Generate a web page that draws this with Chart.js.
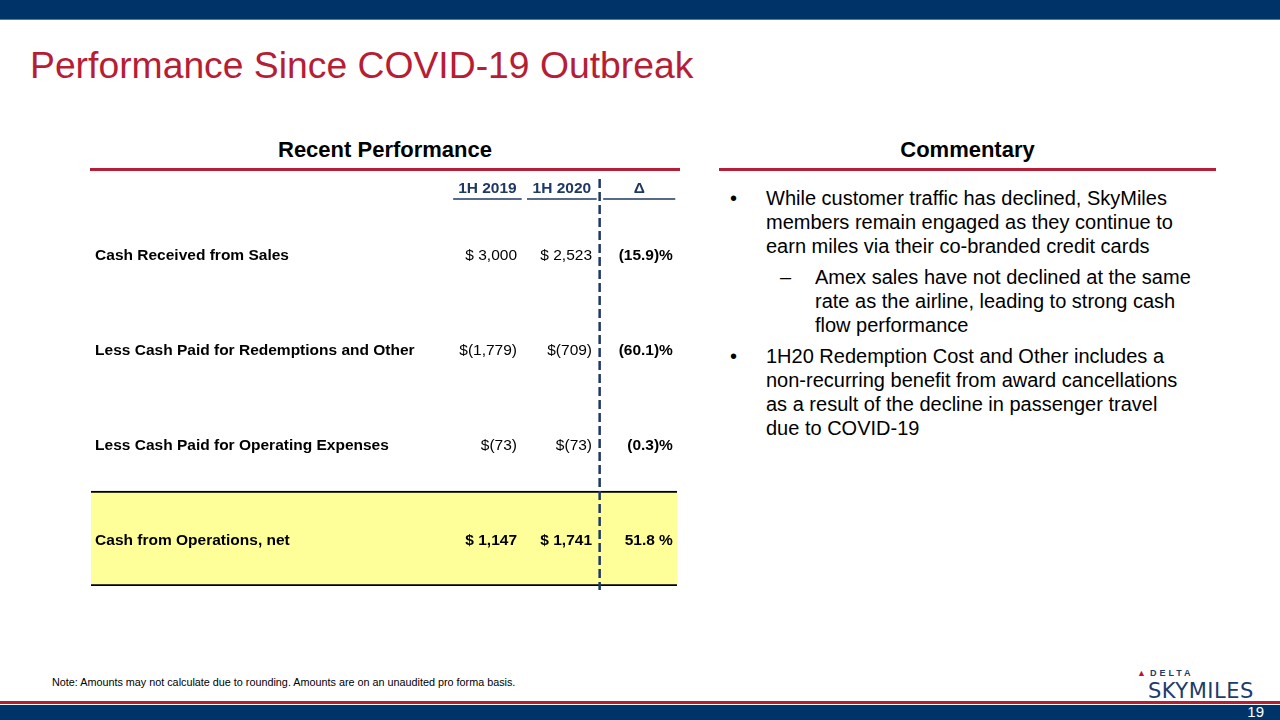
<!DOCTYPE html>
<html>
<head>
<meta charset="utf-8">
<script src="https://cdn.jsdelivr.net/npm/chart.js@4.4.1/dist/chart.umd.min.js"></script>
<style>
  body { margin: 0; width: 1280px; height: 720px; position: relative; overflow: hidden; background: #fff; font-family: "Liberation Sans", Arial, sans-serif; }
  .abs { position: absolute; }
  .nw { white-space: nowrap; }
  #topbar { left: 0; top: 0; width: 1280px; height: 19px; background: #003468; border-bottom: 1px solid #5a7796; }
  #title { left: 30px; top: 44px; font-size: 37.3px; color: #b71d35; white-space: nowrap; }
  .sect { font-size: 22px; font-weight: bold; color: #000; text-align: center; }
  .redline { height: 3px; background: #b71d35; }
  #comment { left: 730px; top: 186px; width: 461px; font-size: 20px; line-height: 24px; color: #000; }
  .b { position: relative; padding-left: 36px; margin-bottom: 7px; }
  .b span.m { position: absolute; left: 0; top: 0; }
  .s { position: relative; padding-left: 85px; margin-bottom: 7px; margin-right: -10px; }
  .s span.m { position: absolute; left: 50px; top: 0; }
  #note { left: 52px; top: 676px; font-size: 10.8px; color: #000; white-space: nowrap; }
  #delta { left: 1137px; top: 668px; font-size: 9px; font-weight: bold; letter-spacing: 3px; color: #1d3c6a; }
  #delta b { color: #c8102e; font-size: 9px; margin-right: 4px; letter-spacing: 0; }
  #sky { left: 1148px; top: 679px; font-size: 21px; letter-spacing: 0.5px; color: #1d3c6a; font-family: "DejaVu Sans", sans-serif; font-weight: normal; }
  #redbot { left: 0; top: 701px; width: 1280px; height: 3px; background: #b71d35; }
  #botbar { left: 0; top: 705px; width: 1280px; height: 15px; background: #003468; }
  #page { right: 16px; top: 703px; font-size: 15px; color: #fff; }
</style>
</head>
<body>
<div id="topbar" class="abs"></div>
<div id="title" class="abs">Performance Since COVID-19 Outbreak</div>

<div class="abs sect" style="left:90px; top:137px; width:590px;">Recent Performance</div>
<div class="abs redline" style="left:90px; top:168px; width:590px;"></div>
<div class="abs sect" style="left:719px; top:137px; width:497px;">Commentary</div>
<div class="abs redline" style="left:719px; top:168px; width:497px;"></div>

<div class="abs" style="left:85px; top:170px; width:600px; height:425px;">
  <canvas id="tbl" width="600" height="425"></canvas>
</div>

<div id="comment" class="abs">
  <div class="b"><span class="m">&bull;</span>While customer traffic has declined, SkyMiles members remain engaged as they continue to earn miles via their <span class="nw">co-branded</span> credit cards</div>
  <div class="s"><span class="m">&ndash;</span>Amex sales have not declined at the same rate as the airline, leading to strong cash flow performance</div>
  <div class="b"><span class="m">&bull;</span>1H20 Redemption Cost and Other includes a <span class="nw">non-recurring</span> benefit from award cancellations as a result of the decline in passenger travel due to <span class="nw">COVID-19</span></div>
</div>

<div id="note" class="abs">Note: Amounts may not calculate due to rounding. Amounts are on an unaudited pro forma basis.</div>
<div id="delta" class="abs"><b>&#9650;</b>DELTA</div>
<div id="sky" class="abs">SKYMILES</div>
<div id="redbot" class="abs"></div>
<div id="botbar" class="abs"></div>
<div id="page" class="abs">19</div>

<script>
// table rows and values ($ millions)
var rowLabels = ['Cash Received from Sales', 'Less Cash Paid for Redemptions and Other', 'Less Cash Paid for Operating Expenses', 'Cash from Operations, net'];
var columnLabels = ['1H 2019', '1H 2020', '\u0394'];
var values2019 = [3000, -1779, -73, 1147];
var values2020 = [2523, -709, -73, 1741];
var changePct = [-15.9, -60.1, -0.3, 51.8];
var totalRow = [false, false, false, true];

var navy = '#1f3864';
var font = '"Liberation Sans", Arial, sans-serif';
var size = '15.5px ';

// column anchors on the hidden 0-100 x scale
var cols = {
  label: 0.7,
  right: [72.7, 85.5, 99.3],
  head: [[61.8, 73.5], [74.4, 86.3], [87.4, 99.7]],
  divider: 86.8
};

function money(v) {
  var s = Math.abs(v).toLocaleString('en-US');
  return v < 0 ? '$(' + s + ')' : '$ ' + s;
}
function pct(v) {
  return v < 0 ? '(' + Math.abs(v).toFixed(1) + ')%' : v.toFixed(1) + ' %';
}

var tablePlugin = {
  id: 'tableText',
  afterDatasetsDraw: function(chart) {
    var ctx = chart.ctx;
    var x = chart.scales.x;
    var y = chart.scales.y;
    var area = chart.chartArea;
    ctx.save();

    // header
    var hy = area.top - 17;
    ctx.fillStyle = navy;
    ctx.strokeStyle = navy;
    ctx.lineWidth = 1.5;
    ctx.font = 'bold ' + size + font;
    ctx.textAlign = 'center';
    ctx.textBaseline = 'middle';
    for (var c = 0; c < columnLabels.length; c++) {
      var a = x.getPixelForValue(cols.head[c][0]);
      var b = x.getPixelForValue(cols.head[c][1]);
      ctx.fillText(columnLabels[c], (a + b) / 2, hy);
      ctx.beginPath();
      ctx.moveTo(a, hy + 10);
      ctx.lineTo(b, hy + 10);
      ctx.stroke();
    }

    // rows
    ctx.fillStyle = '#000';
    for (var i = 0; i < rowLabels.length; i++) {
      var py = y.getPixelForValue(i) + 2;
      ctx.font = 'bold ' + size + font;
      ctx.textAlign = 'left';
      ctx.fillText(rowLabels[i], x.getPixelForValue(cols.label), py);
      ctx.textAlign = 'right';
      ctx.font = (totalRow[i] ? 'bold ' : '') + size + font;
      ctx.fillText(money(values2019[i]), x.getPixelForValue(cols.right[0]), py);
      ctx.fillText(money(values2020[i]), x.getPixelForValue(cols.right[1]), py);
      ctx.font = 'bold ' + size + font;
      ctx.fillText(pct(changePct[i]), x.getPixelForValue(cols.right[2]), py);
    }

    // dashed divider
    var dx = x.getPixelForValue(cols.divider);
    ctx.strokeStyle = navy;
    ctx.lineWidth = 2.5;
    ctx.setLineDash([9, 4]);
    ctx.beginPath();
    ctx.moveTo(dx, area.top - 27);
    ctx.lineTo(dx, area.bottom + 4);
    ctx.stroke();
    ctx.restore();
  }
};

var highlight = rowLabels.map(function(r, i) { return totalRow[i] ? [0, 100] : null; });

new Chart(document.getElementById('tbl'), {
  type: 'bar',
  data: {
    labels: rowLabels,
    datasets: [{
      data: highlight,
      backgroundColor: '#ffff99',
      borderColor: '#000',
      borderWidth: { top: 2, bottom: 2, left: 0, right: 0 },
      borderSkipped: false,
      barPercentage: 1,
      categoryPercentage: 1
    }]
  },
  options: {
    indexAxis: 'y',
    responsive: false,
    animation: false,
    layout: { padding: { left: 6, right: 8, top: 36, bottom: 9 } },
    plugins: { legend: { display: false }, tooltip: { enabled: false } },
    scales: {
      x: { type: 'linear', min: 0, max: 100, display: false },
      y: { display: false }
    }
  },
  plugins: [tablePlugin]
});
</script>
</body>
</html>
